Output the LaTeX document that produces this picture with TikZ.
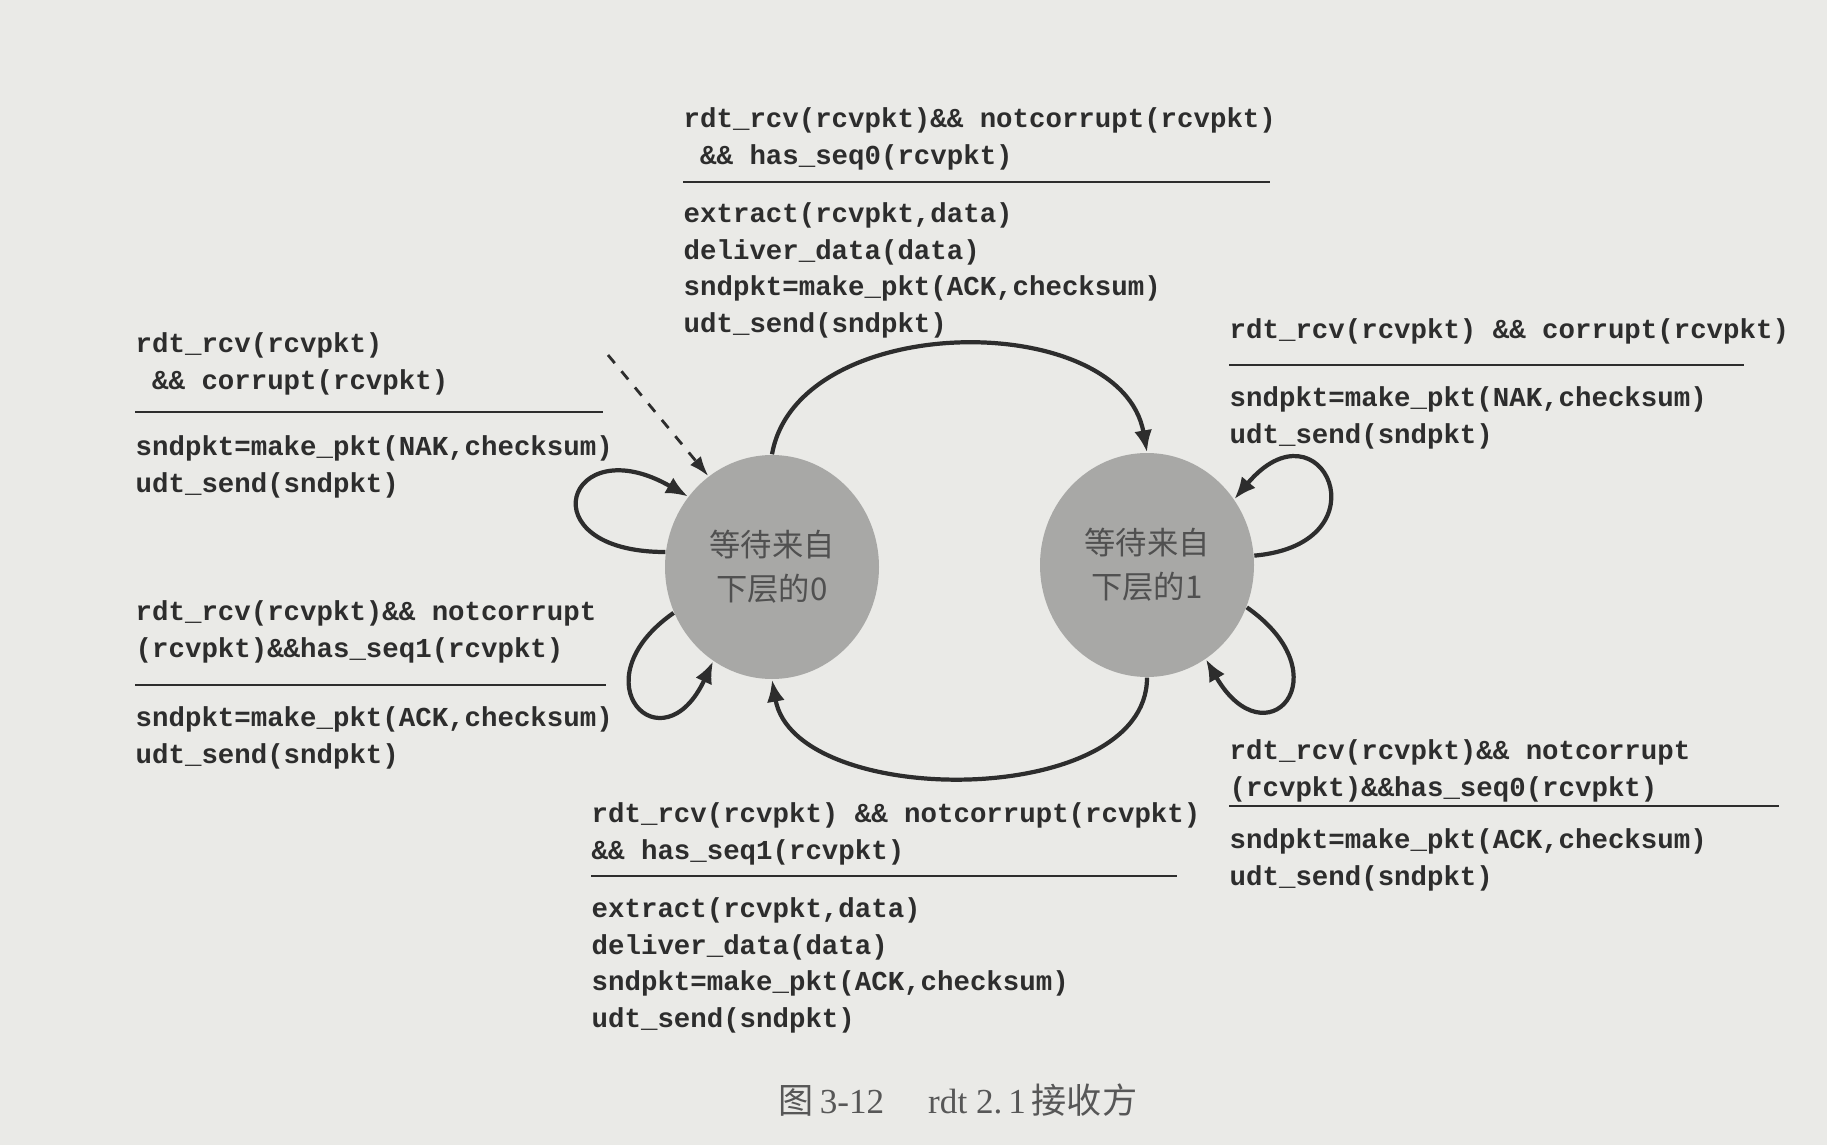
\documentclass[tikz,border=0pt]{standalone}
\usepackage{fontspec}
\setmainfont{Liberation Serif}
\setmonofont{Liberation Mono}
\newfontfamily\cjk{Noto Sans CJK SC}
\usetikzlibrary{shapes}
\usetikzlibrary{positioning}
\usetikzlibrary{arrows.meta}
\definecolor{paper}{RGB}{234,234,231}
\definecolor{ink}{RGB}{45,45,45}
\definecolor{stategray}{RGB}{168,168,166}
\definecolor{statetext}{RGB}{80,80,80}
\tikzset{
    state/.style = {ellipse, draw=none, fill=stategray, minimum width=2.14cm, minimum height=2.24cm, align=center, text=statetext, font=\cjk\fontsize{8.9}{12.5}\selectfont},
    guard/.style = {anchor=north west, inner sep=0pt, align=left, text=ink, font=\ttfamily\bfseries\fontsize{7.8}{10.4}\selectfont},
    bar/.style = {semithick, draw=ink},
    edgen/.style = {-{Latex[length=2.2mm,width=1.8mm]}, very thick, draw=ink},
    edged/.style = {-{Latex[length=2mm,width=1.4mm]}, thick, draw=ink, dashed}, % start
    capt/.style = {text=ink!80, font=\fontsize{10}{12}\selectfont}
}
\begin{document}
\begin{tikzpicture}[scale=1.00,transform shape]
\fill[paper] (0,0) rectangle (18.27,11.45);
\useasboundingbox (0,0) rectangle (18.27,11.45);
%
\node[state] at (7.72,5.78) (s0) {等待来自\\下层的0};
\node[state] at (11.47,5.80) (s1) {等待来自\\下层的1};
\coordinate (init) at (6.08,7.90);
%
\node[guard] at (6.83,10.38) (a) {rdt\_rcv(rcvpkt)\&\& notcorrupt(rcvpkt)\\~\&\& has\_seq0(rcvpkt)};
\draw[bar] (6.83,9.63) -- (12.70,9.63);
\node[guard] at (6.83,9.43) (aa) {extract(rcvpkt,data)\\deliver\_data(data)\\sndpkt=make\_pkt(ACK,checksum)\\udt\_send(sndpkt)};
%
\node[guard] at (12.29,8.27) (b) {rdt\_rcv(rcvpkt) \&\& corrupt(rcvpkt)};
\draw[bar] (12.29,7.80) -- (17.44,7.80);
\node[guard] at (12.29,7.59) (bb) {sndpkt=make\_pkt(NAK,checksum)\\udt\_send(sndpkt)};
%
\node[guard] at (1.35,8.13) (c) {rdt\_rcv(rcvpkt)\\~\&\& corrupt(rcvpkt)};
\draw[bar] (1.35,7.33) -- (6.03,7.33);
\node[guard] at (1.35,7.10) (cc) {sndpkt=make\_pkt(NAK,checksum)\\udt\_send(sndpkt)};
%
\node[guard] at (1.35,5.45) (d) {rdt\_rcv(rcvpkt)\&\& notcorrupt\\(rcvpkt)\&\&has\_seq1(rcvpkt)};
\draw[bar] (1.35,4.60) -- (6.06,4.60);
\node[guard] at (1.35,4.39) (dd) {sndpkt=make\_pkt(ACK,checksum)\\udt\_send(sndpkt)};
%
\node[guard] at (5.91,3.43) (e) {rdt\_rcv(rcvpkt) \&\& notcorrupt(rcvpkt)\\\&\& has\_seq1(rcvpkt)};
\draw[bar] (5.91,2.69) -- (11.77,2.69);
\node[guard] at (5.91,2.48) (ee) {extract(rcvpkt,data)\\deliver\_data(data)\\sndpkt=make\_pkt(ACK,checksum)\\udt\_send(sndpkt)};
%
\node[guard] at (12.29,4.06) (f) {rdt\_rcv(rcvpkt)\&\& notcorrupt\\(rcvpkt)\&\&has\_seq0(rcvpkt)};
\draw[bar] (12.29,3.39) -- (17.79,3.39);
\node[guard] at (12.29,3.17) (ff) {sndpkt=make\_pkt(ACK,checksum)\\udt\_send(sndpkt)};
%
\node[capt] at (9.58,0.45) (g) {{\cjk 图}\,3-12\quad\ rdt 2.\,1\,{\cjk 接收方}};
%
\draw[edged] (init) -- (s0.125);
\draw[edgen] (s0.north) to[out=80,in=100] (s1.north);
\draw[edgen] (s1.south) to[out=-90,in=-80,looseness=0.9] (s0.south);
\draw[edgen] (s0.172) to[out=180,in=150,distance=1.4cm] (s0.140);
\draw[edgen] (s0.205) to[out=215,in=245,distance=1.2cm] (s0.238);
\draw[edgen] (s1.5) to[out=5,in=50,distance=1.35cm] (s1.37);
\draw[edgen] (s1.-23) to[out=-35,in=-60,distance=1.2cm] (s1.-58);
\end{tikzpicture}
\end{document}
